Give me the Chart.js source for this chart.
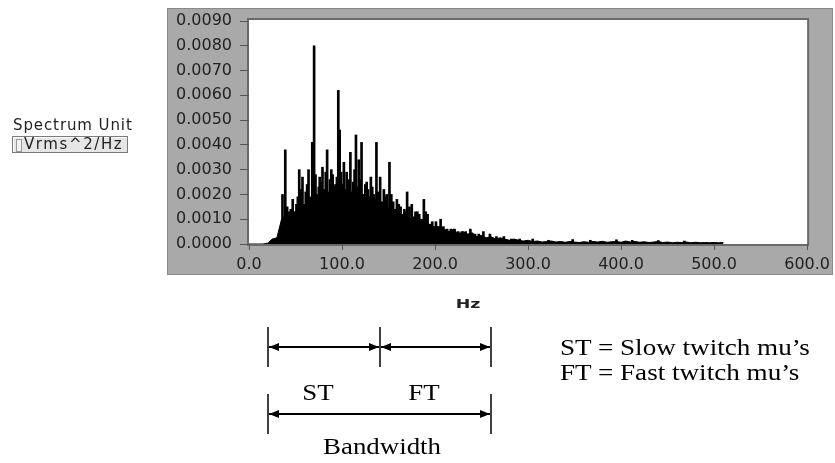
<!DOCTYPE html>
<html>
<head>
<meta charset="utf-8">
<script src="https://cdn.jsdelivr.net/npm/chart.js@4.4.1/dist/chart.umd.min.js"></script>
<style>
  body { margin: 0; background: #fff; }
  #page { position: relative; width: 835px; height: 463px; overflow: hidden; background: #fff; }
  #chartBox { position: absolute; left: 0; top: 0; width: 835px; height: 463px; }
  .txt { position: absolute; white-space: nowrap; line-height: 1; }
  .sans { font-family: "DejaVu Sans", sans-serif; color: #222; }
  .serif { font-family: "Liberation Serif", "Times New Roman", serif; color: #000; font-size: 24px; }
  .mid { transform: translate(-50%, -50%) scaleX(1.12); }
  .leftmid { transform-origin: left center; transform: translateY(-50%) scaleX(1.13); }
  #unitBox {
    position: absolute; left: 12px; top: 136px; width: 114px; height: 15px;
    border: 1px solid #7a7a7a; background: #e6e6e6; box-shadow: inset 1px 1px 0 #fff;
  }
  #unitBox .strip { position: absolute; left: 3px; top: 2px; width: 4px; height: 11px; border: 1px solid #999; background: #f4f4f4; }
  #unitBox .val { position: absolute; left: 11px; top: 0px; font-size: 15px; letter-spacing: 1.6px; }
</style>
</head>
<body>
<div id="page">
  <div id="chartBox"><canvas id="spectrumChart"></canvas></div>

  <div class="txt sans" style="left:13px; top:118px; font-size:15px; letter-spacing:0.9px;">Spectrum Unit</div>
  <div id="unitBox"><div class="strip"></div><div class="txt sans val">Vrms^2/Hz</div></div>

  <div class="txt sans" style="left:468px; top:304px; font-size:12px; font-weight:bold; transform:translate(-50%,-50%) scaleX(1.45);">Hz</div>

  <!-- ST / FT bandwidth diagram -->
  <svg style="position:absolute; left:0; top:0;" width="835" height="463">
    <defs>
      <marker id="head" viewBox="0 0 10 8" refX="10" refY="4" markerWidth="10" markerHeight="8"
              markerUnits="userSpaceOnUse" orient="auto-start-reverse">
        <path d="M0,0 L10,4 L0,8 z" fill="#000"/>
      </marker>
    </defs>
    <g stroke="#000" stroke-width="1.5">
      <line x1="268" y1="327" x2="268" y2="367"/>
      <line x1="380" y1="327" x2="380" y2="367"/>
      <line x1="491" y1="327" x2="491" y2="367"/>
      <line x1="268" y1="394" x2="268" y2="434"/>
      <line x1="491" y1="394" x2="491" y2="434"/>
    </g>
    <g stroke="#000" stroke-width="2" marker-start="url(#head)" marker-end="url(#head)">
      <line x1="269" y1="347" x2="379" y2="347"/>
      <line x1="381" y1="347" x2="490" y2="347"/>
      <line x1="269" y1="414" x2="490" y2="414"/>
    </g>
  </svg>
  <div class="txt serif mid" style="left:318px; top:392px;">ST</div>
  <div class="txt serif mid" style="left:424px; top:392px;">FT</div>
  <div class="txt serif mid" style="left:382px; top:446px;">Bandwidth</div>
  <div class="txt serif leftmid" style="left:560px; top:347px;">ST = Slow twitch mu’s</div>
  <div class="txt serif leftmid" style="left:560px; top:372px;">FT = Fast twitch mu’s</div>
</div>

<script>
// frequency axis (Hz) and power (Vrms^2/Hz)
const xTicks = [0, 100, 200, 300, 400, 500, 600];
const yTicks = [0, 0.001, 0.002, 0.003, 0.004, 0.005, 0.006, 0.007, 0.008, 0.009];

// dense part of the spectrum (the black mass)
const bodyHz = [
  0, 5, 10, 15, 20, 25, 30, 35, 40, 45, 50, 55, 60, 65, 70, 75, 80, 85, 90, 95,
  100, 105, 110, 115, 120, 125, 130, 135, 140, 145, 150, 155, 160, 165, 170, 175, 180, 185, 190, 195,
  200, 205, 210, 215, 220, 225, 230, 235, 240, 245, 250, 255, 260, 265, 270, 275, 280, 285, 290, 295,
  300, 305, 310, 315, 320, 325, 330, 335, 340, 345, 350, 355, 360, 365, 370, 375, 380, 385, 390, 395,
  400, 405, 410, 415, 420, 425, 430, 435, 440, 445, 450, 455, 460, 465, 470, 475, 480, 485, 490, 495,
  500, 505, 510
];
const bodyPower = [
  0, 0, 0, 0, 0.00003, 0.0002, 0.00025, 0.0010, 0.0011, 0.0012, 0.0013, 0.0012, 0.0015, 0.0014, 0.0018, 0.0019, 0.0021, 0.0019, 0.0022, 0.0020,
  0.0021, 0.0018, 0.0019, 0.0017, 0.0018, 0.0016, 0.0016, 0.0015, 0.0015, 0.0013, 0.0014, 0.0012, 0.0012, 0.0011, 0.0011, 0.0010, 0.0010, 0.0009, 0.0010, 0.0007,
  0.0007, 0.0007, 0.0006, 0.0005, 0.0006, 0.0004, 0.0005, 0.0004, 0.00045, 0.0003, 0.00035, 0.00025, 0.0003, 0.0002, 0.00025, 0.0002, 0.00015, 0.0002, 0.00015, 0.00012,
  0.00015, 0.0001, 0.00012, 0.00008, 0.0001, 0.00012, 0.00008, 0.0001, 0.00007, 0.0001, 0.00008, 0.00006, 0.00009, 0.00007, 0.0001, 0.00008, 0.00011, 0.00007, 0.00009, 0.0001,
  0.00007, 0.00012, 0.00008, 0.0001, 0.00007, 0.00009, 0.00006, 0.00008, 0.0001, 0.00006, 0.00008, 0.00005, 0.00007, 0.00006, 0.00008, 0.00005, 0.00007, 0.00005, 0.00006, 0.00005,
  0.00006, 0.00005, 0.00006
];

// single spectral lines standing out of the mass
const spikeHz = [
  36, 37.5, 39, 41, 43, 45, 47, 49, 51, 52.5,
  54, 56, 57.5, 59, 61, 62.5, 64, 66, 68, 70,
  71.5, 73.5, 75, 76, 77.5, 79, 81, 82.5, 84, 86,
  87, 88.5, 90, 91.5, 93, 94.5, 96, 97.5, 99, 100.5,
  102, 103.5, 105, 107, 109, 110.5, 112, 113.5, 115, 116.5,
  118, 119.5, 121, 123, 125, 126.5, 128, 129.5, 131, 132.5,
  134, 136, 137, 139, 141, 143, 145, 146.5, 148, 150,
  151, 153, 155, 157, 159, 161, 163, 165, 167, 169,
  170, 172.5, 175, 177, 179, 181, 183, 185.5, 188, 190,
  192, 195, 197, 201, 206, 209, 213, 217, 221, 225,
  229, 233, 238, 243, 247, 252, 259, 266, 274, 282,
  291, 305, 322, 348, 367, 395, 412, 440, 468
];
const spikePower = [
  0.0020, 0.0011, 0.0038, 0.0015, 0.0013, 0.0014, 0.0018, 0.0013, 0.0016, 0.0019,
  0.0030, 0.0022, 0.0027, 0.0016, 0.0021, 0.0024, 0.0030, 0.0019, 0.0041, 0.0080,
  0.0028, 0.0020, 0.0023, 0.0027, 0.0025, 0.0031, 0.0022, 0.0029, 0.0038, 0.0021,
  0.0026, 0.0030, 0.0028, 0.0023, 0.0024, 0.0027, 0.0062, 0.0046, 0.0029, 0.0024,
  0.0033, 0.0022, 0.0029, 0.0026, 0.0037, 0.0021, 0.0025, 0.0030, 0.0044, 0.0023,
  0.0034, 0.0026, 0.0041, 0.0020, 0.0024, 0.0025, 0.0022, 0.0019, 0.0027, 0.0023,
  0.0020, 0.0018, 0.0041, 0.0021, 0.0027, 0.0017, 0.0022, 0.0019, 0.0020, 0.0015,
  0.0033, 0.0020, 0.0017, 0.0014, 0.0018, 0.0016, 0.0015, 0.0012, 0.0014, 0.0013,
  0.0021, 0.0015, 0.0016, 0.0011, 0.0013, 0.0013, 0.0012, 0.0010, 0.0018, 0.0013,
  0.0012, 0.0008, 0.0009, 0.0009, 0.0010, 0.0007, 0.0006, 0.0006, 0.0006, 0.0005,
  0.0005, 0.0005, 0.0006, 0.0004, 0.0004, 0.0005, 0.0004, 0.0003, 0.0003, 0.0002,
  0.0002, 0.0002, 0.00015, 0.00018, 0.00015, 0.00017, 0.00015, 0.00014, 0.00012
];

const panelColor = "#a9a9a9";

// grey LabVIEW-like panel behind the graph
const panelPlugin = {
  id: "panel",
  beforeDraw: function (chart) {
    const ctx = chart.ctx;
    const a = chart.chartArea;
    ctx.save();
    ctx.fillStyle = "#fff";
    ctx.fillRect(0, 0, chart.width, chart.height);
    ctx.fillStyle = panelColor;
    ctx.fillRect(167, 8, 666, 267);
    ctx.strokeStyle = "#8a8a8a";
    ctx.lineWidth = 1;
    ctx.strokeRect(167.5, 8.5, 665, 266);
    // plot frame
    ctx.strokeStyle = "#6a6a6a";
    ctx.lineWidth = 2;
    ctx.strokeRect(a.left - 1, a.top - 2, a.right - a.left + 2, a.bottom - a.top + 3);
    ctx.fillStyle = "#fff";
    ctx.fillRect(a.left, a.top - 1, a.right - a.left, a.bottom - a.top + 1);
    ctx.restore();
  },
};

Chart.defaults.font.family = "'DejaVu Sans', sans-serif";
Chart.defaults.color = "#222";

const ctx = document.getElementById("spectrumChart").getContext("2d");
new Chart(ctx, {
  type: "line",
  data: {
    datasets: [
      {
        type: "line",
        data: bodyHz.map((f, i) => ({ x: f, y: bodyPower[i] })),
        borderColor: "#000",
        backgroundColor: "#000",
        borderWidth: 1,
        pointRadius: 0,
        fill: "origin",
        tension: 0,
      },
      {
        type: "bar",
        data: spikeHz.map((f, i) => ({ x: f, y: spikePower[i] })),
        backgroundColor: "#000",
        barThickness: 2,
      },
    ],
  },
  options: {
    responsive: true,
    maintainAspectRatio: false,
    animation: false,
    layout: {
      padding: { left: 168, top: 21, right: 26, bottom: 189 },
    },
    plugins: {
      legend: { display: false },
      tooltip: { enabled: false },
    },
    scales: {
      x: {
        type: "linear",
        min: 0,
        max: 600,
        offset: false,
        afterBuildTicks: (scale) => {
          scale.ticks = xTicks.map((v) => ({ value: v }));
        },
        afterFit: (scale) => {
          scale.height = 30;
        },
        ticks: {
          font: { size: 16 },
          padding: 5,
          maxRotation: 0,
          callback: (v) => v.toFixed(1),
        },
        grid: {
          drawOnChartArea: false,
          tickLength: 6,
          color: "#555",
          offset: false,
        },
        border: { display: false },
      },
      y: {
        min: 0,
        max: 0.009,
        afterBuildTicks: (scale) => {
          scale.ticks = yTicks.map((v) => ({ value: v }));
        },
        afterFit: (scale) => {
          scale.width = 81;
        },
        ticks: {
          font: { size: 16 },
          padding: 8,
          callback: (v) => v.toFixed(4),
        },
        grid: {
          drawOnChartArea: false,
          tickLength: 9,
          color: "#555",
        },
        border: { display: false },
      },
    },
  },
  plugins: [panelPlugin],
});
</script>
</body>
</html>
